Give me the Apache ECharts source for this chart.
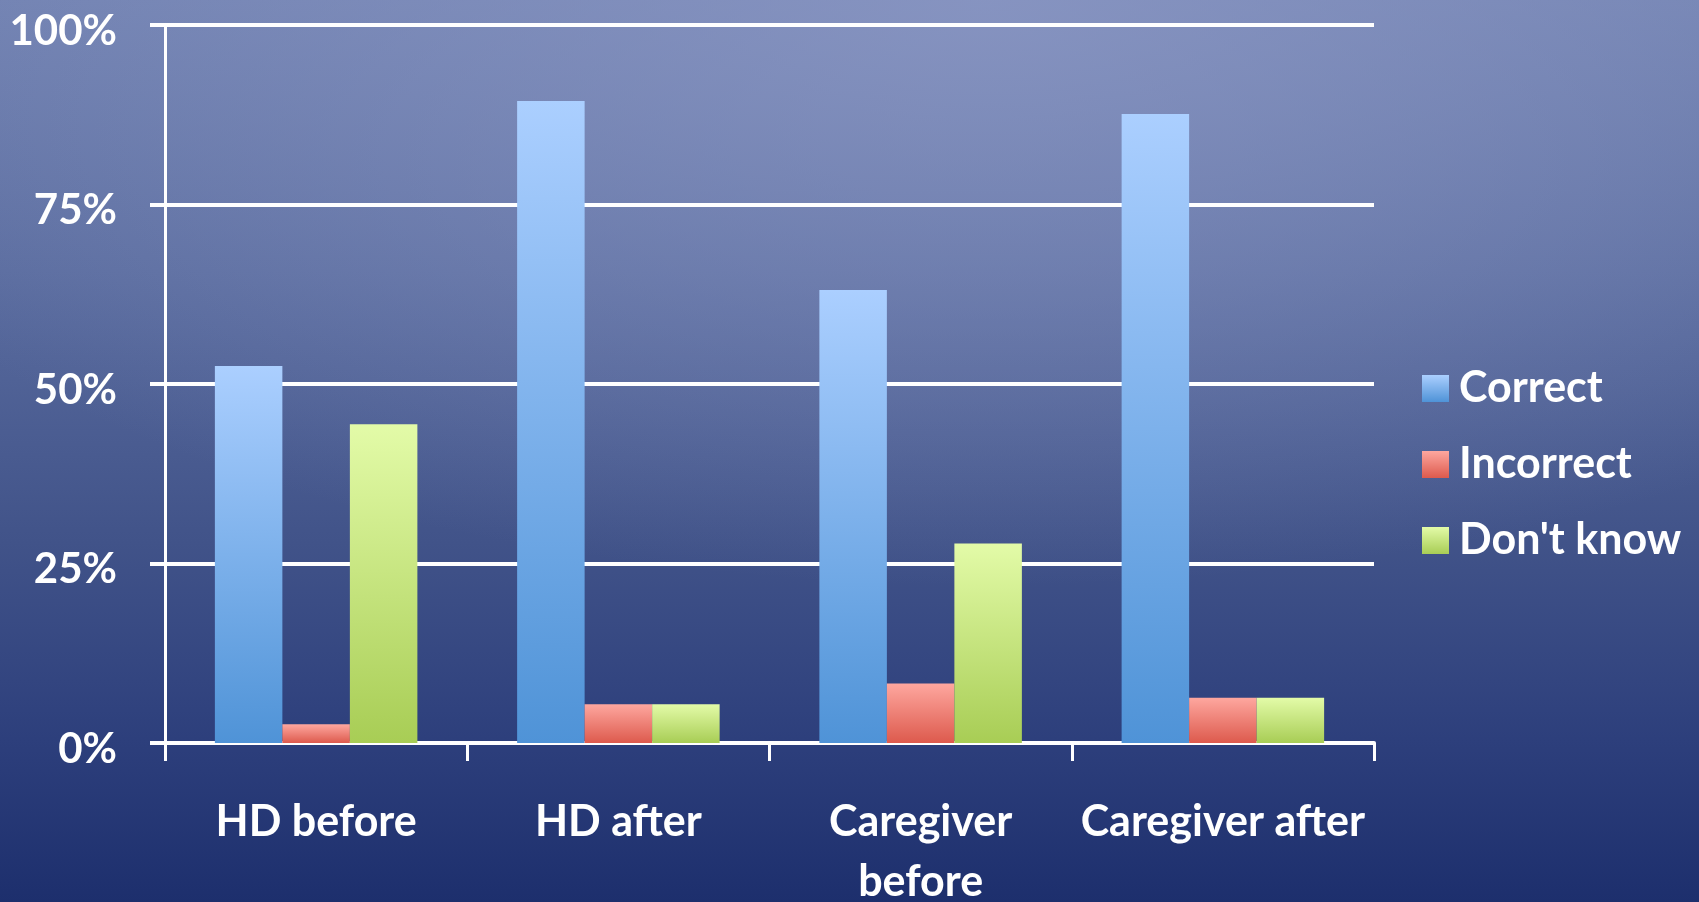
<!DOCTYPE html>
<html>
<head>
<meta charset="utf-8">
<script src="https://cdn.jsdelivr.net/npm/echarts@6/dist/echarts.min.js"></script>
<style>
html,body{margin:0;padding:0;width:1699px;height:902px;overflow:hidden;}
body{
  background:
    radial-gradient(ellipse 75% 65% at 58% 0%, rgba(142,154,198,0.75) 0%, rgba(142,154,198,0) 100%),
    linear-gradient(to bottom, #6f80b0 0%, #5a6c9f 30%, #415389 60%, #2d3f7c 82%, #1d2f6d 100%);
}
#chart{width:1699px;height:902px;}
</style>
</head>
<body>
<div id="chart"></div>
<script>
const categories = ['HD before', 'HD after', 'Caregiver\nbefore', 'Caregiver after'];
const seriesNames = ['Correct', 'Incorrect', "Don't know"];
const correct = [52.5, 89.4, 63.1, 87.6];
const incorrect = [2.6, 5.4, 8.3, 6.3];
const dontKnow = [44.4, 5.4, 27.8, 6.3];
const yTicks = [0, 25, 50, 75, 100];

const FONT = 'Lato';
function grad(top, bottom) {
  return new echarts.graphic.LinearGradient(0, 0, 0, 1, [
    {offset: 0, color: top}, {offset: 1, color: bottom}
  ]);
}
const colors = [
  grad('#abcfff', '#4f93d7'),
  grad('#fea79f', '#dd5a4d'),
  grad('#e3fba8', '#a8cd55')
];
const values = [correct, incorrect, dontKnow];

const chart = echarts.init(document.getElementById('chart'), null, {renderer: 'canvas', width: 1699, height: 902});
chart.setOption({
  backgroundColor: 'transparent',
  animation: false,
  textStyle: {fontFamily: FONT},
  grid: {left: 165, right: 325, top: 25, bottom: 159, containLabel: false, outerBoundsMode: 'none'},
  legend: {
    orient: 'vertical',
    left: 1422,
    top: 367,
    padding: 0,
    itemWidth: 27,
    itemHeight: 27,
    itemGap: 33,
    icon: 'rect',
    data: seriesNames,
    textStyle: {color: '#ffffff', fontSize: 43, fontWeight: 'bold', fontFamily: FONT, padding: [0, 0, 0, 5]}
  },
  xAxis: {
    type: 'category',
    data: categories,
    axisLine: {show: true, lineStyle: {color: '#ffffff', width: 4}},
    axisTick: {show: true, length: 18, lineStyle: {color: '#ffffff', width: 3}},
    axisLabel: {color: '#ffffff', fontSize: 43, fontWeight: 'bold', fontFamily: FONT, margin: 49, lineHeight: 60, interval: 0}
  },
  yAxis: {
    type: 'value',
    min: yTicks[0],
    max: yTicks[yTicks.length - 1],
    interval: 25,
    axisLine: {show: true, lineStyle: {color: '#ffffff', width: 3}},
    axisTick: {show: true, length: 15, lineStyle: {color: '#ffffff', width: 4}},
    splitLine: {show: true, lineStyle: {color: '#ffffff', width: 4}},
    axisLabel: {color: '#ffffff', fontSize: 42, fontWeight: 'bold', fontFamily: FONT, margin: 48, formatter: '{value}%', verticalAlign: 'top', lineHeight: 12}
  },
  series: seriesNames.map((name, i) => ({
    name: name,
    type: 'bar',
    data: values[i],
    barGap: '0%',
    barCategoryGap: '33%',
    itemStyle: {color: colors[i]},
    z: 3
  }))
});
</script>
</body>
</html>
